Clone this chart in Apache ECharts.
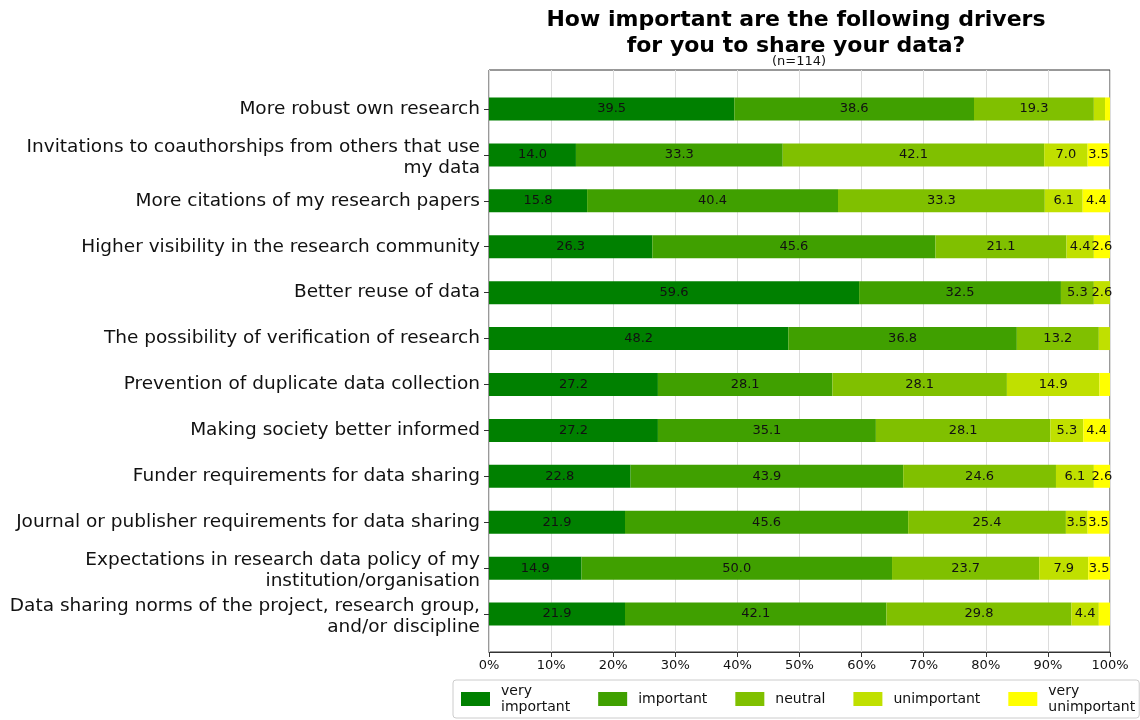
<!DOCTYPE html>
<html>
<head>
<meta charset="utf-8">
<script src="https://cdn.jsdelivr.net/npm/echarts@6/dist/echarts.min.js"></script>
<style>html,body{margin:0;padding:0;background:#fff}#chart{width:1140px;height:720px}</style>
</head>
<body>
<div id="chart"></div>
<script>
const categories = [
  "More robust own research",
  "Invitations to coauthorships from others that use\nmy data",
  "More citations of my research papers",
  "Higher visibility in the research community",
  "Better reuse of data",
  "The possibility of verification of research",
  "Prevention of duplicate data collection",
  "Making society better informed",
  "Funder requirements for data sharing",
  "Journal or publisher requirements for data sharing",
  "Expectations in research data policy of my\ninstitution/organisation",
  "Data sharing norms of the project, research group,\nand/or discipline"
];
const seriesNames = ["very\nimportant", "important", "neutral", "unimportant", "very\nunimportant"];
const veryImportant = [39.5, 14.0, 15.8, 26.3, 59.6, 48.2, 27.2, 27.2, 22.8, 21.9, 14.9, 21.9];
const important     = [38.6, 33.3, 40.4, 45.6, 32.5, 36.8, 28.1, 35.1, 43.9, 45.6, 50.0, 42.1];
const neutral       = [19.3, 42.1, 33.3, 21.1, 5.3, 13.2, 28.1, 28.1, 24.6, 25.4, 23.7, 29.8];
const unimportant   = [1.8, 7.0, 6.1, 4.4, 2.6, 1.8, 14.9, 5.3, 6.1, 3.5, 7.9, 4.4];
const veryUnimportant = [0.9, 3.5, 4.4, 2.6, 0, 0, 1.8, 4.4, 2.6, 3.5, 3.5, 1.8];
const tickValues = [0, 10, 20, 30, 40, 50, 60, 70, 80, 90, 100];
const colors = ["#008000", "#40a000", "#80c000", "#c0e000", "#ffff00"];
const allValues = [veryImportant, important, neutral, unimportant, veryUnimportant];

const FONT = "DejaVu Sans";
const chart = echarts.init(document.getElementById('chart'), null, {renderer: 'canvas'});

const series = seriesNames.map((name, i) => ({
  name: name,
  type: 'bar',
  stack: 'total',
  xAxisIndex: 1,
  yAxisIndex: 1,
  barWidth: 23,
  itemStyle: {color: colors[i]},
  label: {
    show: true,
    position: 'inside',
    fontFamily: FONT,
    fontSize: 13,
    color: '#111',
    formatter: p => (p.value >= 2 ? Number(p.value).toFixed(1) : '')
  },
  data: allValues[i]
}));

const labelFmt = v => {
  if (v.indexOf('\n') < 0) return v;
  const lines = v.split('\n');
  return '{s| }\n' + lines.map(l => '{t|' + l + '}').join('\n');
};

chart.setOption({
  animation: false,
  backgroundColor: '#fff',
  color: colors,
  textStyle: {fontFamily: FONT},
  title: [
    {
      text: "How important are the following drivers\nfor you to share your data?",
      left: 796, top: 7, padding: 0, textAlign: 'center',
      textStyle: {fontFamily: FONT, fontSize: 22, fontWeight: 'bold', color: '#000', lineHeight: 26}
    },
    {
      text: "(n=114)",
      left: 799, top: 55, padding: 0, textAlign: 'center',
      textStyle: {fontFamily: FONT, fontSize: 13, fontWeight: 'normal', color: '#111'}
    }
  ],
  legend: {
    data: seriesNames,
    left: 453, top: 680, width: 720,
    padding: [3, 4, 3, 8],
    borderColor: '#ccc', borderWidth: 1, borderRadius: 3,
    itemWidth: 29, itemHeight: 14, itemGap: 28,
    icon: 'rect',
    textStyle: {fontFamily: FONT, fontSize: 14, color: '#111', lineHeight: 16, padding: [0, 0, 0, 6]}
  },
  grid: [
    {left: 489, right: 30, top: 70, bottom: 68, show: true, borderColor: '#333', borderWidth: 1, backgroundColor: 'transparent'},
    {left: 489, right: 30, top: 86, bottom: 83}
  ],
  xAxis: [
    {
      type: 'value', gridIndex: 0, min: 0, max: 100, interval: 10,
      axisLine: {show: true, lineStyle: {color: '#333'}},
      axisTick: {show: true, length: 5, lineStyle: {color: '#333'}},
      axisLabel: {fontFamily: FONT, fontSize: 13, color: '#111', margin: 7,
        formatter: v => (tickValues.indexOf(v) >= 0 ? v + '%' : '')},
      splitLine: {show: true, lineStyle: {color: '#dcdcdc', width: 1}}
    },
    {type: 'value', gridIndex: 1, min: 0, max: 100, show: false}
  ],
  yAxis: [
    {type: 'value', gridIndex: 0, show: false, min: 0, max: 1},
    {
      type: 'category', gridIndex: 1, inverse: true, data: categories,
      axisLine: {show: false},
      axisTick: {show: true, alignWithLabel: true, interval: 0, length: 5, lineStyle: {color: '#333'}},
      axisLabel: {
        interval: 0, hideOverlap: false,
        fontFamily: FONT, fontSize: 18.5, color: '#111', margin: 9, lineHeight: 21, align: 'right',
        formatter: labelFmt,
        rich: {
          s: {fontSize: 1, lineHeight: 5, align: 'right'},
          t: {fontFamily: FONT, fontSize: 18.5, color: '#111', lineHeight: 21, align: 'right'}
        }
      },
      splitLine: {show: false}
    }
  ],
  series: series
});
</script>
</body>
</html>
